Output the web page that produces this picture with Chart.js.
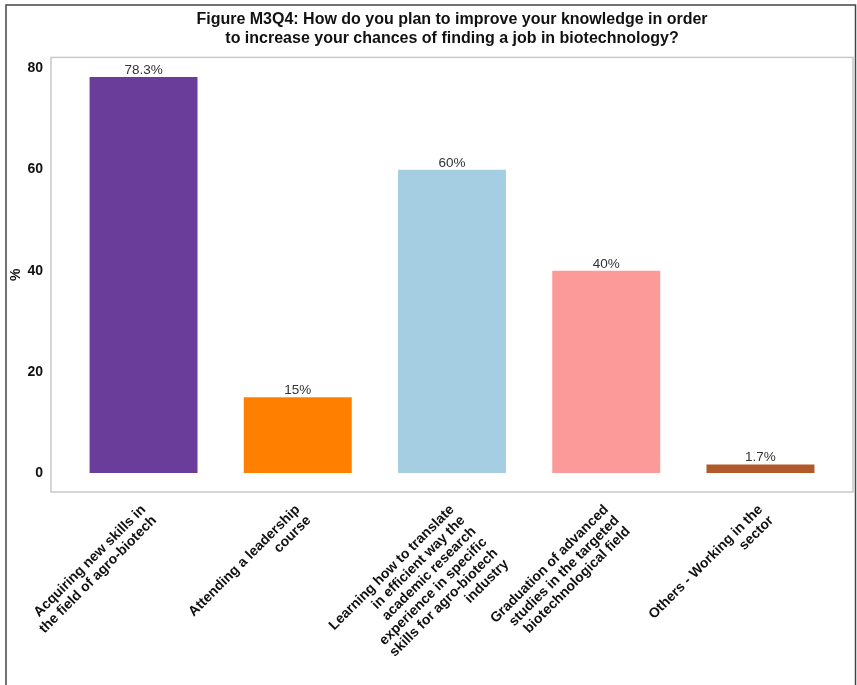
<!DOCTYPE html>
<html>
<head>
<meta charset="utf-8">
<script src="https://cdn.jsdelivr.net/npm/chart.js@4/dist/chart.umd.min.js"></script>
<style>
  html, body { margin: 0; padding: 0; background: #ffffff; }
  canvas { display: block; }
</style>
</head>
<body>
<canvas id="chart" width="857" height="685"></canvas>
<script>
// Answer options, split into lines as shown under each bar
const categories = [
  ["Acquiring new skills in", "the field of agro-biotech"],
  ["Attending a leadership", "course"],
  ["Learning how to translate", "in efficient way the", "academic research", "experience in specific", "skills for agro-biotech", "industry"],
  ["Graduation of advanced", "studies in the targeted", "biotechnological field"],
  ["Others - Working in the", "sector"]
];
// Share of respondents (%)
const values = [78.3, 15, 60, 40, 1.7];
const barColors = ["#6a3d9a", "#ff7f00", "#a6cee3", "#fb9a99", "#b15928"];
const yTicks = [0, 20, 40, 60, 80];
const titleLines = [
  "Figure M3Q4: How do you plan to improve your knowledge in order",
  "to increase your chances of finding a job in biotechnology?"
];

const FONT = "'Liberation Sans', Arial, Helvetica, sans-serif";
const positions = categories.map((_, i) => i + 1);

// Outer frame and panel border
const framePlugin = {
  id: 'frame',
  beforeDraw(chart) {
    const ctx = chart.ctx;
    ctx.save();
    ctx.strokeStyle = '#444444';
    ctx.lineWidth = 1.5;
    ctx.beginPath();
    ctx.moveTo(6, 685);
    ctx.lineTo(6, 5);
    ctx.lineTo(855.5, 5);
    ctx.lineTo(855.5, 685);
    ctx.stroke();
    ctx.restore();
  },
  afterDraw(chart) {
    const a = chart.chartArea;
    const ctx = chart.ctx;
    ctx.save();
    ctx.strokeStyle = '#c8c8c8';
    ctx.lineWidth = 1.5;
    ctx.strokeRect(a.left, a.top, a.right - a.left, a.bottom - a.top);
    ctx.restore();
  }
};

// Percentage labels above each bar
const valueLabelPlugin = {
  id: 'valueLabels',
  afterDatasetsDraw(chart) {
    const ctx = chart.ctx;
    const meta = chart.getDatasetMeta(0);
    ctx.save();
    ctx.font = "13.5px " + FONT;
    ctx.fillStyle = '#333333';
    ctx.textAlign = 'center';
    ctx.textBaseline = 'alphabetic';
    meta.data.forEach((bar, i) => {
      ctx.fillText(values[i] + '%', bar.x, bar.y - 3);
    });
    ctx.restore();
  }
};

new Chart(document.getElementById('chart'), {
  type: 'bar',
  data: {
    datasets: [{
      data: values.map((v, i) => ({ x: positions[i], y: v })),
      backgroundColor: barColors,
      borderWidth: 0,
      categoryPercentage: 1,
      barPercentage: 0.7
    }]
  },
  options: {
    responsive: false,
    animation: false,
    devicePixelRatio: 1,
    layout: { padding: { top: 0, right: 4, bottom: 0, left: 0 } },
    plugins: {
      legend: { display: false },
      tooltip: { enabled: false },
      title: {
        display: true,
        text: titleLines,
        fullSize: false,
        color: '#111111',
        font: { family: FONT, size: 16, weight: 'bold', lineHeight: 1.2 },
        padding: { top: 10, bottom: 9 }
      }
    },
    scales: {
      x: {
        type: 'linear',
        offset: false,
        min: 0.4,
        max: 5.6,
        grid: { display: false, drawTicks: false, offset: false },
        border: { display: false },
        afterBuildTicks(scale) { scale.ticks = positions.map(v => ({ value: v })); },
        afterFit(scale) { scale.height = 193; },
        ticks: {
          autoSkip: false,
          minRotation: 45,
          maxRotation: 45,
          padding: 10,
          color: '#111111',
          font: { family: FONT, size: 14, weight: 'bold', lineHeight: 1.1 },
          callback(value) {
            const idx = positions.indexOf(value);
            return idx >= 0 ? categories[idx] : '';
          }
        }
      },
      y: {
        type: 'linear',
        min: -3.76,
        max: 82.2,
        grid: { display: false, drawTicks: false },
        border: { display: false },
        afterBuildTicks(scale) { scale.ticks = yTicks.map(v => ({ value: v })); },
        afterFit(scale) { scale.width = 51; },
        ticks: {
          padding: 8,
          color: '#111111',
          font: { family: FONT, size: 14, weight: 'bold' }
        },
        title: {
          display: true,
          text: '%',
          color: '#111111',
          font: { family: FONT, size: 14, weight: 'bold' },
          padding: { top: 8, bottom: 0 }
        }
      }
    }
  },
  plugins: [framePlugin, valueLabelPlugin]
});
</script>
</body>
</html>
